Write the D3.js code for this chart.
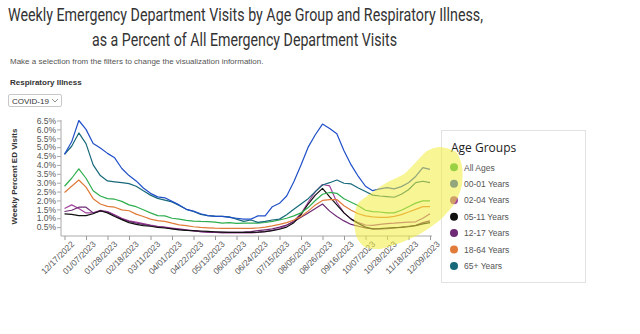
<!DOCTYPE html>
<html>
<head>
<meta charset="utf-8">
<script src="https://cdn.jsdelivr.net/npm/d3@7"></script>
<style>
  body { margin: 0; background: #fff; }
  svg { display: block; font-family: "Liberation Sans", Arial, sans-serif; }
</style>
</head>
<body>
<script>
// weekly values, % of all ED visits, 12/17/2022 .. 12/09/2023
var startWeek = new Date(2022, 11, 17);
var age0001 = [4.6,5.3,6.5,6.0,5.2,4.95,4.65,4.4,3.8,3.4,3.1,2.7,2.4,2.2,2.15,1.95,1.75,1.5,1.4,1.25,1.15,1.1,1.1,1.05,1.0,0.95,0.95,1.13,1.13,1.65,1.84,2.25,3.05,4.0,5.0,5.7,6.3,6.05,5.75,4.8,4.0,3.35,2.8,2.55,2.65,2.72,2.65,2.78,3.0,3.35,3.85,3.75];
var age65 = [4.6,5.05,5.8,5.2,4.0,3.4,3.1,3.05,3.0,2.95,2.8,2.55,2.3,2.12,2.02,1.92,1.72,1.5,1.38,1.22,1.15,1.12,1.1,1.08,0.95,0.82,0.9,0.77,0.82,0.9,0.95,1.2,1.5,1.8,2.1,2.5,2.87,3.0,3.15,2.97,2.93,2.7,2.5,2.3,2.25,2.22,2.18,2.35,2.6,3.0,3.08,3.0];
var allAges = [2.8,3.25,3.78,3.25,2.55,2.25,2.1,2.07,1.95,1.75,1.65,1.48,1.3,1.15,1.13,1.0,0.95,0.88,0.84,0.82,0.81,0.78,0.72,0.75,0.71,0.72,0.72,0.72,0.76,0.82,0.9,1.0,1.13,1.3,1.6,2.0,2.35,2.45,2.4,2.1,1.9,1.7,1.45,1.37,1.35,1.3,1.3,1.45,1.65,1.85,1.98,1.98];
var age1864 = [2.45,2.8,3.15,2.75,2.1,1.8,1.67,1.62,1.47,1.42,1.23,1.1,0.95,0.87,0.82,0.72,0.63,0.58,0.52,0.48,0.46,0.44,0.43,0.43,0.43,0.43,0.43,0.45,0.5,0.57,0.65,0.75,0.9,1.1,1.4,1.75,2.0,2.05,2.05,1.7,1.45,1.25,1.13,1.08,1.05,1.05,1.1,1.2,1.35,1.5,1.65,1.65];
var age0204 = [1.55,1.75,1.55,1.3,1.3,1.45,1.38,1.2,1.0,0.85,0.78,0.7,0.62,0.55,0.5,0.45,0.4,0.35,0.3,0.25,0.22,0.2,0.18,0.17,0.17,0.17,0.18,0.2,0.25,0.32,0.42,0.6,0.85,1.25,1.9,2.5,2.9,2.82,1.9,1.3,0.95,0.75,0.62,0.6,0.65,0.7,0.72,0.75,0.78,0.8,1.0,1.25];
var age0511 = [1.25,1.22,1.15,1.15,1.25,1.42,1.3,1.1,0.92,0.75,0.65,0.58,0.55,0.48,0.45,0.4,0.35,0.32,0.3,0.28,0.26,0.24,0.22,0.2,0.2,0.2,0.2,0.22,0.25,0.3,0.38,0.5,0.75,1.2,1.8,2.3,2.68,2.2,1.75,1.3,0.95,0.7,0.5,0.4,0.42,0.45,0.47,0.48,0.52,0.58,0.68,0.75];
var age1217 = [1.38,1.45,1.62,1.62,1.3,1.4,1.35,1.15,0.95,0.82,0.72,0.65,0.58,0.52,0.48,0.42,0.38,0.33,0.28,0.25,0.22,0.2,0.2,0.2,0.2,0.22,0.25,0.3,0.35,0.4,0.5,0.62,0.8,1.05,1.3,1.55,1.8,1.4,1.1,0.85,0.65,0.55,0.45,0.4,0.4,0.42,0.45,0.5,0.55,0.6,0.75,0.85];

var groupNames = ["All Ages", "00-01 Years", "02-04 Years", "05-11 Years", "12-17 Years", "18-64 Years", "65+ Years"];
var groupColors = ["#2eae4e", "#1f4fc8", "#a2449c", "#111111", "#6e2a74", "#e07b39", "#17697a"];
var groupValues = [allAges, age0001, age0204, age0511, age1217, age1864, age65];
var yTicks = [0.5,1.0,1.5,2.0,2.5,3.0,3.5,4.0,4.5,5.0,5.5,6.0,6.5];

var weeks = age0001.map(function(d, i) { return d3.timeWeek.offset(startWeek, i); });
var tickWeeks = weeks.filter(function(d, i) { return i % 3 == 0; });

var width = 640, height = 334;
var svg = d3.select("body").append("svg")
    .attr("width", width)
    .attr("height", height);

// titles
svg.append("text").attr("x", 8).attr("y", 20.5)
    .attr("font-family", "Roboto, 'Noto Sans', sans-serif").attr("font-size", 17.5)
    .attr("fill", "#333").attr("textLength", 475).attr("lengthAdjust", "spacingAndGlyphs")
    .text("Weekly Emergency Department Visits by Age Group and Respiratory Illness,");
svg.append("text").attr("x", 92).attr("y", 46)
    .attr("font-family", "Roboto, 'Noto Sans', sans-serif").attr("font-size", 17.5)
    .attr("fill", "#333").attr("textLength", 305).attr("lengthAdjust", "spacingAndGlyphs")
    .text("as a Percent of All Emergency Department Visits");
svg.append("text").attr("x", 10).attr("y", 64)
    .attr("font-size", 8).attr("fill", "#555")
    .text("Make a selection from the filters to change the visualization information.");
svg.append("text").attr("x", 10).attr("y", 85)
    .attr("font-size", 8).attr("font-weight", "bold").attr("fill", "#333")
    .text("Respiratory Illness");

// dropdown
svg.append("rect").attr("x", 8.5).attr("y", 94.5).attr("width", 53).attr("height", 12)
    .attr("fill", "#fff").attr("stroke", "#c8c8c8").attr("rx", 1.5);
svg.append("text").attr("x", 12).attr("y", 103.5)
    .attr("font-size", 8).attr("fill", "#333").text("COVID-19");
svg.append("path").attr("d", "M52,99 L55,102 L58,99")
    .attr("fill", "none").attr("stroke", "#777").attr("stroke-width", 0.8);

// scales
var x = d3.scaleTime()
    .domain([weeks[0], weeks[weeks.length - 1]])
    .range([64.5, 430]);
var y = d3.scaleLinear()
    .domain([0, 6.5])
    .range([236, 120.5]);

// y axis
var yAxis = svg.append("g")
    .attr("transform", "translate(61,0)")
    .call(d3.axisLeft(y).tickValues(yTicks).tickSize(4).tickPadding(1)
        .tickFormat(function(d) { return d.toFixed(1) + "%"; }));
yAxis.select(".domain").attr("stroke", "#aaa").attr("d", "M0,120V236");
yAxis.selectAll(".tick line").attr("stroke", "#aaa");
yAxis.selectAll("text").attr("font-family", "'Liberation Sans', Arial, sans-serif")
    .attr("font-size", 8.5).attr("fill", "#555");

// x axis
var xAxis = svg.append("g")
    .attr("transform", "translate(0,236)")
    .call(d3.axisBottom(x).tickValues(tickWeeks).tickSize(4)
        .tickFormat(d3.timeFormat("%m/%d/%Y")));
xAxis.select(".domain").attr("stroke", "#aaa").attr("d", "M61,0H432");
xAxis.selectAll(".tick line").attr("stroke", "#999");
xAxis.selectAll("text")
    .attr("font-family", "'Liberation Sans', Arial, sans-serif")
    .attr("font-size", 8.5).attr("fill", "#555")
    .attr("text-anchor", "end")
    .attr("dy", "0.3em")
    .attr("transform", "translate(3,2) rotate(-45)");

svg.append("text")
    .attr("transform", "translate(17,176.5) rotate(-90)")
    .attr("text-anchor", "middle").attr("font-size", 8).attr("font-weight", "bold")
    .attr("fill", "#333").text("Weekly Percent ED Visits");

// lines
var line = d3.line()
    .x(function(d, i) { return x(weeks[i]); })
    .y(function(d) { return y(d); });

var drawOrder = [2, 4, 3, 5, 0, 6, 1];
svg.append("g").selectAll("path")
    .data(drawOrder)
    .enter()
    .append("path")
    .attr("d", function(k) { return line(groupValues[k]); })
    .attr("fill", "none")
    .attr("stroke", function(k) { return groupColors[k]; })
    .attr("stroke-width", 1.2)
    .attr("stroke-linejoin", "round");

// legend
var legend = svg.append("g");
legend.append("rect").attr("x", 441.5).attr("y", 130.5).attr("width", 144).attr("height", 152)
    .attr("fill", "#fff").attr("stroke", "#e2e2e2");
legend.append("text").attr("x", 451).attr("y", 151.5)
    .attr("font-family", "'Open Sans', 'Noto Sans', sans-serif").attr("font-size", 12)
    .attr("fill", "#222").text("Age Groups");
var item = legend.selectAll(".item")
    .data(groupNames)
    .enter()
    .append("g")
    .attr("class", "item")
    .attr("transform", function(d, i) { return "translate(454," + (167.3 + i * 16.45) + ")"; });
item.append("circle").attr("r", 4)
    .attr("fill", function(d, i) { return groupColors[i]; });
item.append("text").attr("x", 10).attr("y", 3.2)
    .attr("font-size", 8.5).attr("fill", "#555")
    .text(function(d) { return d; });

// yellow highlighter mark
var blob = [[440,147],[456,152],[462,166],[462,185],[455,203],[440,220],[420,234],[400,243],[380,249],[365,247],[357,238],[354,222],[357,205],[367,196],[386,183],[404,174],[416,162],[427,151]];
svg.append("path")
    .attr("d", d3.line().curve(d3.curveCardinalClosed.tension(0.3))(blob))
    .attr("fill", "#f3ec3c")
    .attr("opacity", 0.55);
</script>
</body>
</html>
